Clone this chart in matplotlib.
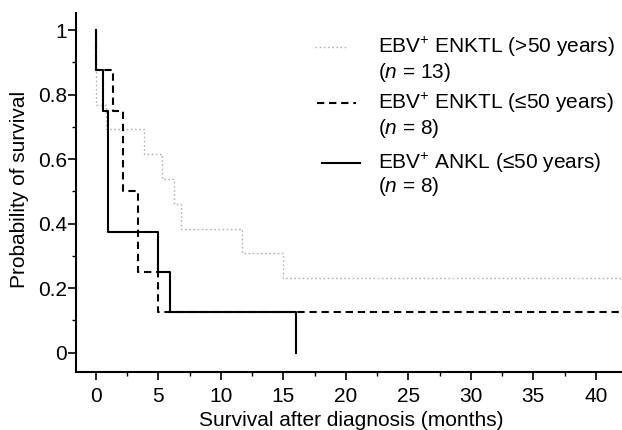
import matplotlib
matplotlib.use("Agg")
import matplotlib.pyplot as plt
from matplotlib.ticker import MultipleLocator, FuncFormatter

plt.rcParams['font.family'] = ['Liberation Sans', 'DejaVu Sans']
plt.rcParams['mathtext.fontset'] = 'custom'
plt.rcParams['mathtext.rm'] = 'Liberation Sans'
plt.rcParams['mathtext.it'] = 'Liberation Sans:italic'

# Kaplan-Meier step data (time in months, survival probability)
t_enktl_old = [0, 0, 0.8, 3.85, 5.25, 6.25, 6.8, 11.7, 15.0, 42.5]
s_enktl_old = [1, 10/13, 9/13, 8/13, 7/13, 6/13, 5/13, 4/13, 3/13, 3/13]

t_enktl_young = [0, 0, 1.4, 2.2, 3.4, 5.0, 42.5]
s_enktl_young = [1, 0.875, 0.75, 0.5, 0.25, 0.125, 0.125]

t_ankl = [0, 0, 0.6, 1.0, 5.0, 5.9, 16.0]
s_ankl = [1, 0.875, 0.75, 0.375, 0.25, 0.125, 0]

labels = ["EBV$^{+}$ ENKTL (>50 years)", "EBV$^{+}$ ENKTL (≤50 years)", "EBV$^{+}$ ANKL (≤50 years)"]
n_labels = ["($n$ = 13)", "($n$ = 8)", "($n$ = 8)"]

x_ticks = [0, 5, 10, 15, 20, 25, 30, 35, 40]
y_ticks = [0, 0.2, 0.4, 0.6, 0.8, 1]

W, H = 622, 430
fig = plt.figure(figsize=(W/100, H/100), dpi=100)
ax = fig.add_axes([76/W, 1-372/H, 1-76/W, (372-13)/H])

dotted_style = dict(color='#b4b4b4', lw=1.0, linestyle=(0, (1.2, 1.8)))
dashed_style = dict(color='black', lw=1.5, linestyle=(0, (3.5, 2.3)))
solid_style = dict(color='black', lw=1.5, linestyle='-')

ax.plot(t_enktl_old, s_enktl_old, drawstyle='steps-post', **dotted_style)
ax.plot(t_enktl_young, s_enktl_young, drawstyle='steps-post', **dashed_style)
ax.plot(t_ankl, s_ankl, drawstyle='steps-post', **solid_style)

ax.set_xlim(-1.6, 42.1)
ax.set_ylim(-0.06, 1.053)
ax.spines['top'].set_visible(False)
ax.spines['right'].set_visible(False)
ax.spines['left'].set_linewidth(1.5)
ax.spines['bottom'].set_linewidth(1.5)

ax.set_xticks(x_ticks)
ax.set_yticks(y_ticks)
ax.xaxis.set_minor_locator(MultipleLocator(2.5))
ax.yaxis.set_minor_locator(MultipleLocator(0.1))
ax.yaxis.set_major_formatter(FuncFormatter(lambda v, p: '%g' % v))
ax.tick_params(which='major', direction='out', length=5.5, width=1.2, labelsize=15)
ax.tick_params(which='minor', direction='out', length=3, width=1.0)
ax.tick_params(axis='y', which='major', pad=1)
ax.tick_params(axis='x', which='major', pad=5)

fig.text(351/W, 1-426.5/H, 'Survival after diagnosis (months)', fontsize=15,
         ha='center', va='baseline')
fig.text(20/W, 1-189/H, 'Probability of survival', fontsize=15, rotation=90,
         ha='center', va='center')

# Legend drawn manually
styles = [dotted_style, dashed_style, solid_style]
line_x = [(315, 347), (317, 356), (322, 360)]
row_y = [(47, 72), (103, 128), (163, 187)]
for lab, nl, st, (x0, x1), (y0, y1) in zip(labels, n_labels, styles, line_x, row_y):
    fig.add_artist(plt.Line2D([x0/W, x1/W], [1-y0/H, 1-y0/H], **st))
    fig.text(378/W, 1-y0/H, lab, fontsize=15, va='center', ha='left')
    fig.text(378/W, 1-y1/H, nl, fontsize=15, va='center', ha='left')

fig.savefig('out.png', dpi=100)
